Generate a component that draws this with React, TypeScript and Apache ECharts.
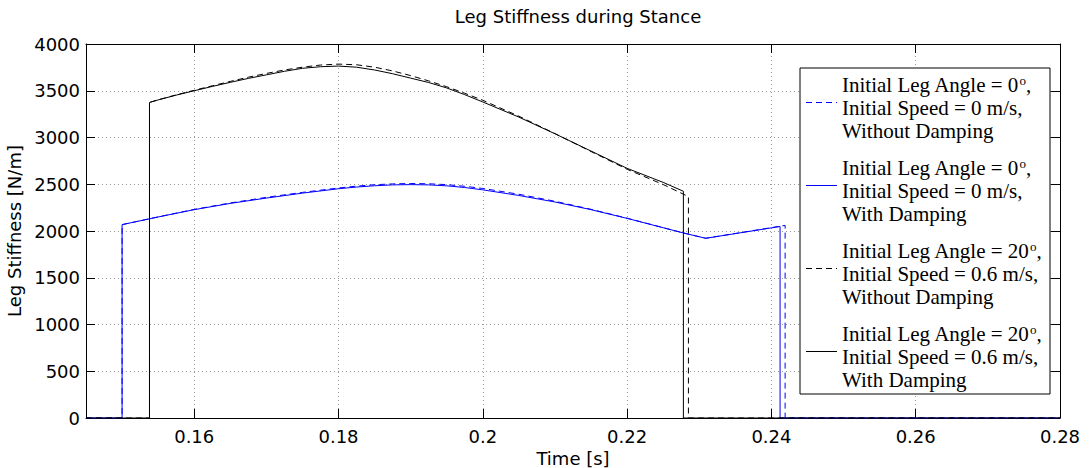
import React, { useEffect, useRef } from "react";
import * as echarts from "echarts";

const chartTitle = "Leg Stiffness during Stance";
const xAxisName = "Time [s]";
const yAxisName = "Leg Stiffness [N/m]";
const xMin = 0.145;
const xMax = 0.28;
const yMin = 0;
const yMax = 4000;
const yStep = 500;

// Series 1: Initial Leg Angle = 0°, Speed 0 m/s, Without Damping (blue dashed)
const blueNoDampTime = [0.145, 0.15, 0.15, 0.155, 0.16, 0.165, 0.17, 0.175, 0.18, 0.1825, 0.185, 0.1875, 0.19, 0.1925, 0.195, 0.1975, 0.2, 0.205, 0.21, 0.215, 0.22, 0.225, 0.2278, 0.2309, 0.2419, 0.2419, 0.28];
const blueNoDampValue = [0, 0, 2068, 2151, 2231, 2300, 2360, 2413, 2460, 2480, 2495, 2504, 2508, 2505, 2496, 2478, 2455, 2393, 2318, 2232, 2137, 2036, 1979, 1922, 2060, 0, 0];

// Series 2: Initial Leg Angle = 0°, Speed 0 m/s, With Damping (blue solid)
const blueDampTime = [0.145, 0.15, 0.15, 0.155, 0.16, 0.165, 0.17, 0.175, 0.18, 0.1825, 0.185, 0.1875, 0.19, 0.1925, 0.195, 0.1975, 0.2, 0.205, 0.21, 0.215, 0.22, 0.225, 0.2278, 0.2309, 0.2412, 0.2412, 0.28];
const blueDampValue = [0, 0, 2068, 2150, 2228, 2295, 2352, 2405, 2452, 2470, 2484, 2493, 2496, 2493, 2483, 2465, 2440, 2380, 2310, 2228, 2135, 2035, 1979, 1922, 2048, 0, 0];

// Series 3: Initial Leg Angle = 20°, Speed 0.6 m/s, Without Damping (black dashed)
const blackNoDampTime = [0.145, 0.1538, 0.1538, 0.155, 0.1575, 0.16, 0.1625, 0.165, 0.1675, 0.17, 0.1725, 0.175, 0.1775, 0.18, 0.1825, 0.185, 0.1875, 0.19, 0.1925, 0.195, 0.1975, 0.2, 0.205, 0.21, 0.215, 0.22, 0.225, 0.2285, 0.2285, 0.28];
const blackNoDampValue = [0, 0, 3375, 3403, 3456, 3505, 3553, 3600, 3645, 3685, 3722, 3752, 3775, 3785, 3778, 3752, 3712, 3662, 3605, 3543, 3473, 3398, 3228, 3042, 2850, 2660, 2497, 2368, 0, 0];

// Series 4: Initial Leg Angle = 20°, Speed 0.6 m/s, With Damping (black solid)
const blackDampTime = [0.145, 0.1538, 0.1538, 0.155, 0.1575, 0.16, 0.1625, 0.165, 0.1675, 0.17, 0.1725, 0.175, 0.1775, 0.18, 0.1825, 0.185, 0.1875, 0.19, 0.1925, 0.195, 0.1975, 0.2, 0.205, 0.21, 0.215, 0.22, 0.225, 0.2278, 0.2278, 0.28];
const blackDampValue = [0, 0, 3375, 3402, 3453, 3500, 3546, 3590, 3632, 3670, 3708, 3740, 3757, 3764, 3752, 3722, 3682, 3635, 3588, 3530, 3458, 3380, 3218, 3040, 2855, 2670, 2520, 2425, 0, 0];

const legendAngles = ["0", "0", "20", "20"];
const legendSpeeds = ["0 m/s", "0 m/s", "0.6 m/s", "0.6 m/s"];
const legendDamping = ["Without Damping", "With Damping", "Without Damping", "With Damping"];
const seriesColors = ["#0000ff", "#0000ff", "#000000", "#000000"];
const seriesDashed = [true, false, true, false];

const seriesTimes = [blueNoDampTime, blueDampTime, blackNoDampTime, blackDampTime];
const seriesValues = [blueNoDampValue, blueDampValue, blackNoDampValue, blackDampValue];

const SANS = "DejaVu Sans";
const SERIF = "Liberation Serif";

export default function App() {
  const ref = useRef<HTMLDivElement>(null);

  useEffect(() => {
    if (!ref.current) return;
    const chart = echarts.init(ref.current, undefined, { renderer: "svg" });

    const gridLeft = 86;
    const gridTop = 44;
    const gridRight = 31;
    const gridBottom = 50;

    const series = seriesTimes.map((times, i) => ({
      type: "line",
      name: `s${i}`,
      xAxisIndex: 0,
      yAxisIndex: 0,
      data: times.map((t, j) => [t, seriesValues[i][j]]),
      showSymbol: false,
      symbol: "none",
      clip: false,
      z: 3 + i,
      lineStyle: {
        color: seriesColors[i],
        width: 1,
        type: seriesDashed[i] ? [6, 4] : "solid",
      },
    }));

    // Legend drawn as graphic
    const lx = 800;
    const lTop = 68;
    const lBottom = 394;
    const legendEls: any[] = [
      {
        type: "rect",
        shape: { x: lx, y: lTop, width: 250, height: lBottom - lTop },
        style: { fill: "#ffffff", stroke: "#000000", lineWidth: 1 },
        z: 100,
      },
    ];
    for (let i = 0; i < 4; i++) {
      const yc = 107.5 + 83 * i;
      legendEls.push({
        type: "line",
        shape: { x1: 806, y1: yc - 5, x2: 837, y2: yc - 5 },
        style: {
          stroke: seriesColors[i],
          lineWidth: 1,
          lineDash: seriesDashed[i] ? [6, 4] : null,
        },
        z: 101,
      });
      const lines = [
        `Initial Leg Angle = ${legendAngles[i]}{sup|o},`,
        `Initial Speed = ${legendSpeeds[i]},`,
        `${legendDamping[i]}`,
      ];
      lines.forEach((txt, k) => {
        legendEls.push({
          type: "text",
          x: 842,
          y: yc - 23 + 23 * k,
          z: 101,
          style: {
            text: txt,
            fontFamily: SERIF,
            fontSize: 21,
            fill: "#000000",
            verticalAlign: "middle",
            align: "left",
            rich: {
              sup: {
                fontFamily: SERIF,
                fontSize: 13,
                verticalAlign: "top",
                fill: "#000000",
              },
            },
          },
        });
      });
    }

    const gridLine = { show: true, lineStyle: { color: "#9a9a9a", type: [1, 3], width: 1 } };

    chart.setOption({
      animation: false,
      backgroundColor: "#ffffff",
      title: {
        text: chartTitle,
        left: (gridLeft + (1091 - gridRight)) / 2,
        textAlign: "center",
        top: 2,
        textStyle: { fontFamily: SANS, fontSize: 18, fontWeight: "normal", color: "#000" },
      },
      grid: {
        left: gridLeft,
        top: gridTop,
        right: gridRight,
        bottom: gridBottom,
        show: false,
        containLabel: false,
        outerBoundsMode: "none",
      },
      xAxis: [
        {
          type: "value",
          min: xMin,
          max: xMax,
          splitNumber: 7,
          position: "bottom",
          name: xAxisName,
          nameLocation: "middle",
          nameGap: 24,
          nameTextStyle: { fontFamily: SANS, fontSize: 18, color: "#000" },
          axisLine: { show: true, onZero: false, lineStyle: { color: "#000", width: 1 } },
          axisTick: { show: true, inside: true, length: 9, lineStyle: { color: "#000" } },
          axisLabel: {
            show: true,
            margin: 9,
            showMinLabel: false,
            fontFamily: SANS,
            fontSize: 18,
            color: "#000",
          },
          splitLine: gridLine,
        },
        {
          type: "value",
          min: xMin,
          max: xMax,
          splitNumber: 7,
          position: "top",
          axisLine: { show: true, onZero: false, lineStyle: { color: "#000", width: 1 } },
          axisTick: { show: true, inside: true, length: 9, lineStyle: { color: "#000" } },
          axisLabel: { show: false },
          splitLine: { show: false },
        },
      ],
      yAxis: [
        {
          type: "value",
          min: yMin,
          max: yMax,
          interval: yStep,
          position: "left",
          name: yAxisName,
          nameLocation: "middle",
          nameGap: 54,
          nameTextStyle: { fontFamily: SANS, fontSize: 18, color: "#000" },
          axisLine: { show: true, onZero: false, lineStyle: { color: "#000", width: 1 } },
          axisTick: { show: true, inside: true, length: 9, lineStyle: { color: "#000" } },
          axisLabel: {
            show: true,
            margin: 6,
            fontFamily: SANS,
            fontSize: 18,
            color: "#000",
            formatter: (v: number) => String(v),
          },
          splitLine: gridLine,
        },
        {
          type: "value",
          min: yMin,
          max: yMax,
          interval: yStep,
          position: "right",
          axisLine: { show: true, onZero: false, lineStyle: { color: "#000", width: 1 } },
          axisTick: { show: true, inside: true, length: 9, lineStyle: { color: "#000" } },
          axisLabel: { show: false },
          splitLine: { show: false },
        },
      ],
      series,
      graphic: legendEls,
    });

    return () => chart.dispose();
  }, []);

  return (
    <div
      ref={ref}
      style={{ position: "absolute", left: 0, top: 0, width: 1091, height: 468 }}
    />
  );
}
